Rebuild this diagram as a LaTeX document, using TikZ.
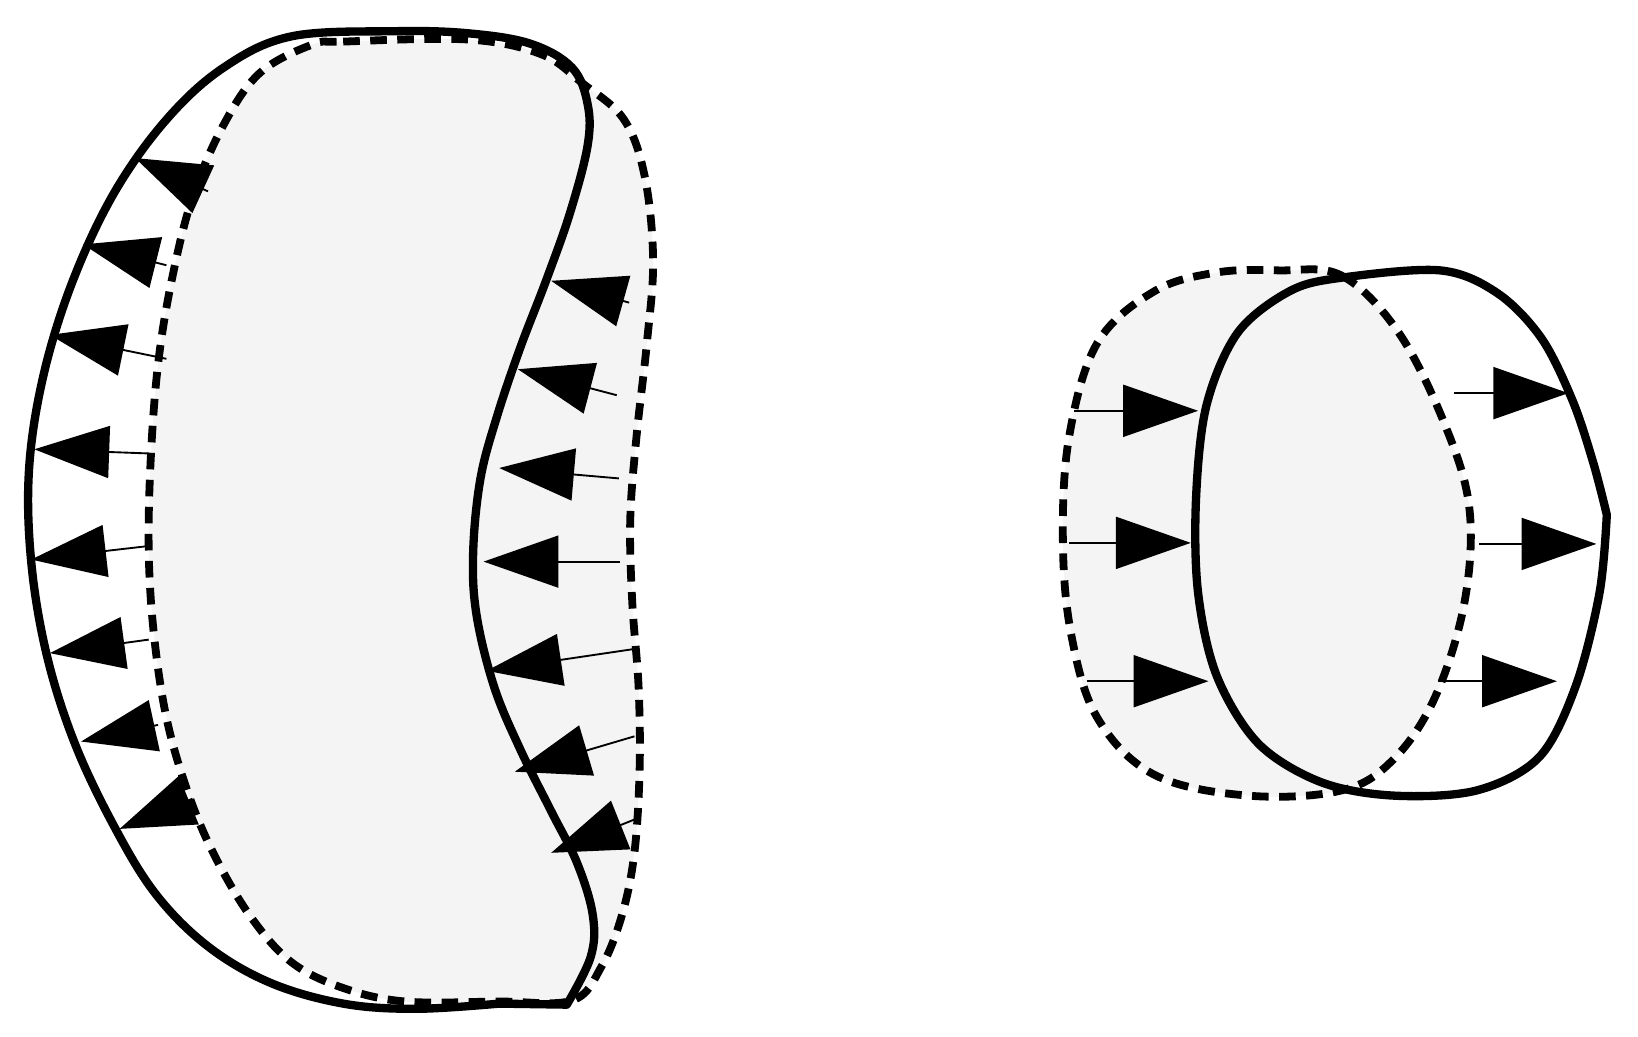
\documentclass[tikz,border=0pt]{standalone}
\usepackage{tikz}
\usetikzlibrary{arrows.meta}

\definecolor{bodygray}{HTML}{F4F4F4}

\begin{document}
\begin{tikzpicture}[x=1pt,y=-1pt]
\tikzstyle{outline}=[black,line width=8pt,line join=round]
\tikzstyle{trace}=[black,line width=7.5pt,dash pattern=on 16pt off 10pt]
\tikzstyle{push}=[black,line width=1.8pt,-{Triangle[length=72pt,width=50pt]}]
\useasboundingbox (0,0) rectangle (1575,997);
% shaded regions
\fill [bodygray] plot[smooth cycle,tension=0.6] coordinates {(300,43) (330,40) (450,38) (520,52) (560,80) (600,115) (620,170) (628,250) (622,330) (612,420) (606,500) (608,580) (614,660) (615,740) (610,820) (598,880) (578,930) (550,962) (480,963) (390,963) (330,950) (280,925) (240,880) (205,820) (180,760) (160,690) (148,610) (143,530) (145,440) (152,350) (165,270) (185,190) (215,120) (250,70)};
\fill [bodygray] plot[smooth cycle,tension=0.6] coordinates {(1230,260) (1290,265) (1345,320) (1390,410) (1413,490) (1408,580) (1380,670) (1340,730) (1290,760) (1200,765) (1110,745) (1055,690) (1030,610) (1022,520) (1028,420) (1055,330) (1110,280) (1170,262)};
% solid boundaries
\draw [outline] plot[smooth,tension=0.6] coordinates {(545,966) (568,920) (570,880) (555,830) (530,780) (500,720) (475,660) (458,590) (455,530) (462,460) (478,400) (500,335) (525,270) (548,205) (565,140) (565,100) (550,65) (510,42) (450,32) (380,30) (280,35) (215,65) (160,115) (110,185) (70,270) (42,360) (28,450) (30,540) (45,630) (72,715) (110,795) (150,860) (200,910) (260,945) (330,965) (400,970) (480,965)} -- cycle;
\draw [outline] plot[smooth,tension=0.55] coordinates {(1545,495) (1538,570) (1515,660) (1480,728) (1420,760) (1340,765) (1270,752) (1210,715) (1170,650) (1152,570) (1150,480) (1160,390) (1190,320) (1240,280) (1290,267) (1385,260) (1440,282) (1482,325) (1512,385) (1532,445) (1545,495)} -- cycle;
% dashed boundaries
\draw [trace] plot[smooth cycle,tension=0.6] coordinates {(300,43) (330,40) (450,38) (520,52) (560,80) (600,115) (620,170) (628,250) (622,330) (612,420) (606,500) (608,580) (614,660) (615,740) (610,820) (598,880) (578,930) (550,962) (480,963) (390,963) (330,950) (280,925) (240,880) (205,820) (180,760) (160,690) (148,610) (143,530) (145,440) (152,350) (165,270) (185,190) (215,120) (250,70)};
\draw [trace] plot[smooth cycle,tension=0.6] coordinates {(1230,260) (1290,265) (1345,320) (1390,410) (1413,490) (1408,580) (1380,670) (1340,730) (1290,760) (1200,765) (1110,745) (1055,690) (1030,610) (1022,520) (1028,420) (1055,330) (1110,280) (1170,262)};
% displacement arrows
\foreach \ax/\ay/\bx/\by in {200/184/130/152, 160/255/80/235, 160/345/48/322, 143/436/33/432, 143/525/30/538, 143/615/48/628, 152/697/78/713, 185/768/115/797}
  \draw [push] (\ax,\ay) -- (\bx,\by);
\foreach \ax/\ay/\bx/\by in {605/291/530/270, 593/380/498/355, 595/460/480/450, 596/540/465/540, 610/624/468/645, 610/708/495/742, 610/788/530/820}
  \draw [push] (\ax,\ay) -- (\bx,\by);
\foreach \ax/\ay/\bx/\by in {1033/395/1152/395, 1028/522/1145/522, 1045/655/1162/655, 1398/378/1508/378, 1422/523/1535/523, 1383/655/1497/655}
  \draw [push] (\ax,\ay) -- (\bx,\by);
\end{tikzpicture}
\end{document}
